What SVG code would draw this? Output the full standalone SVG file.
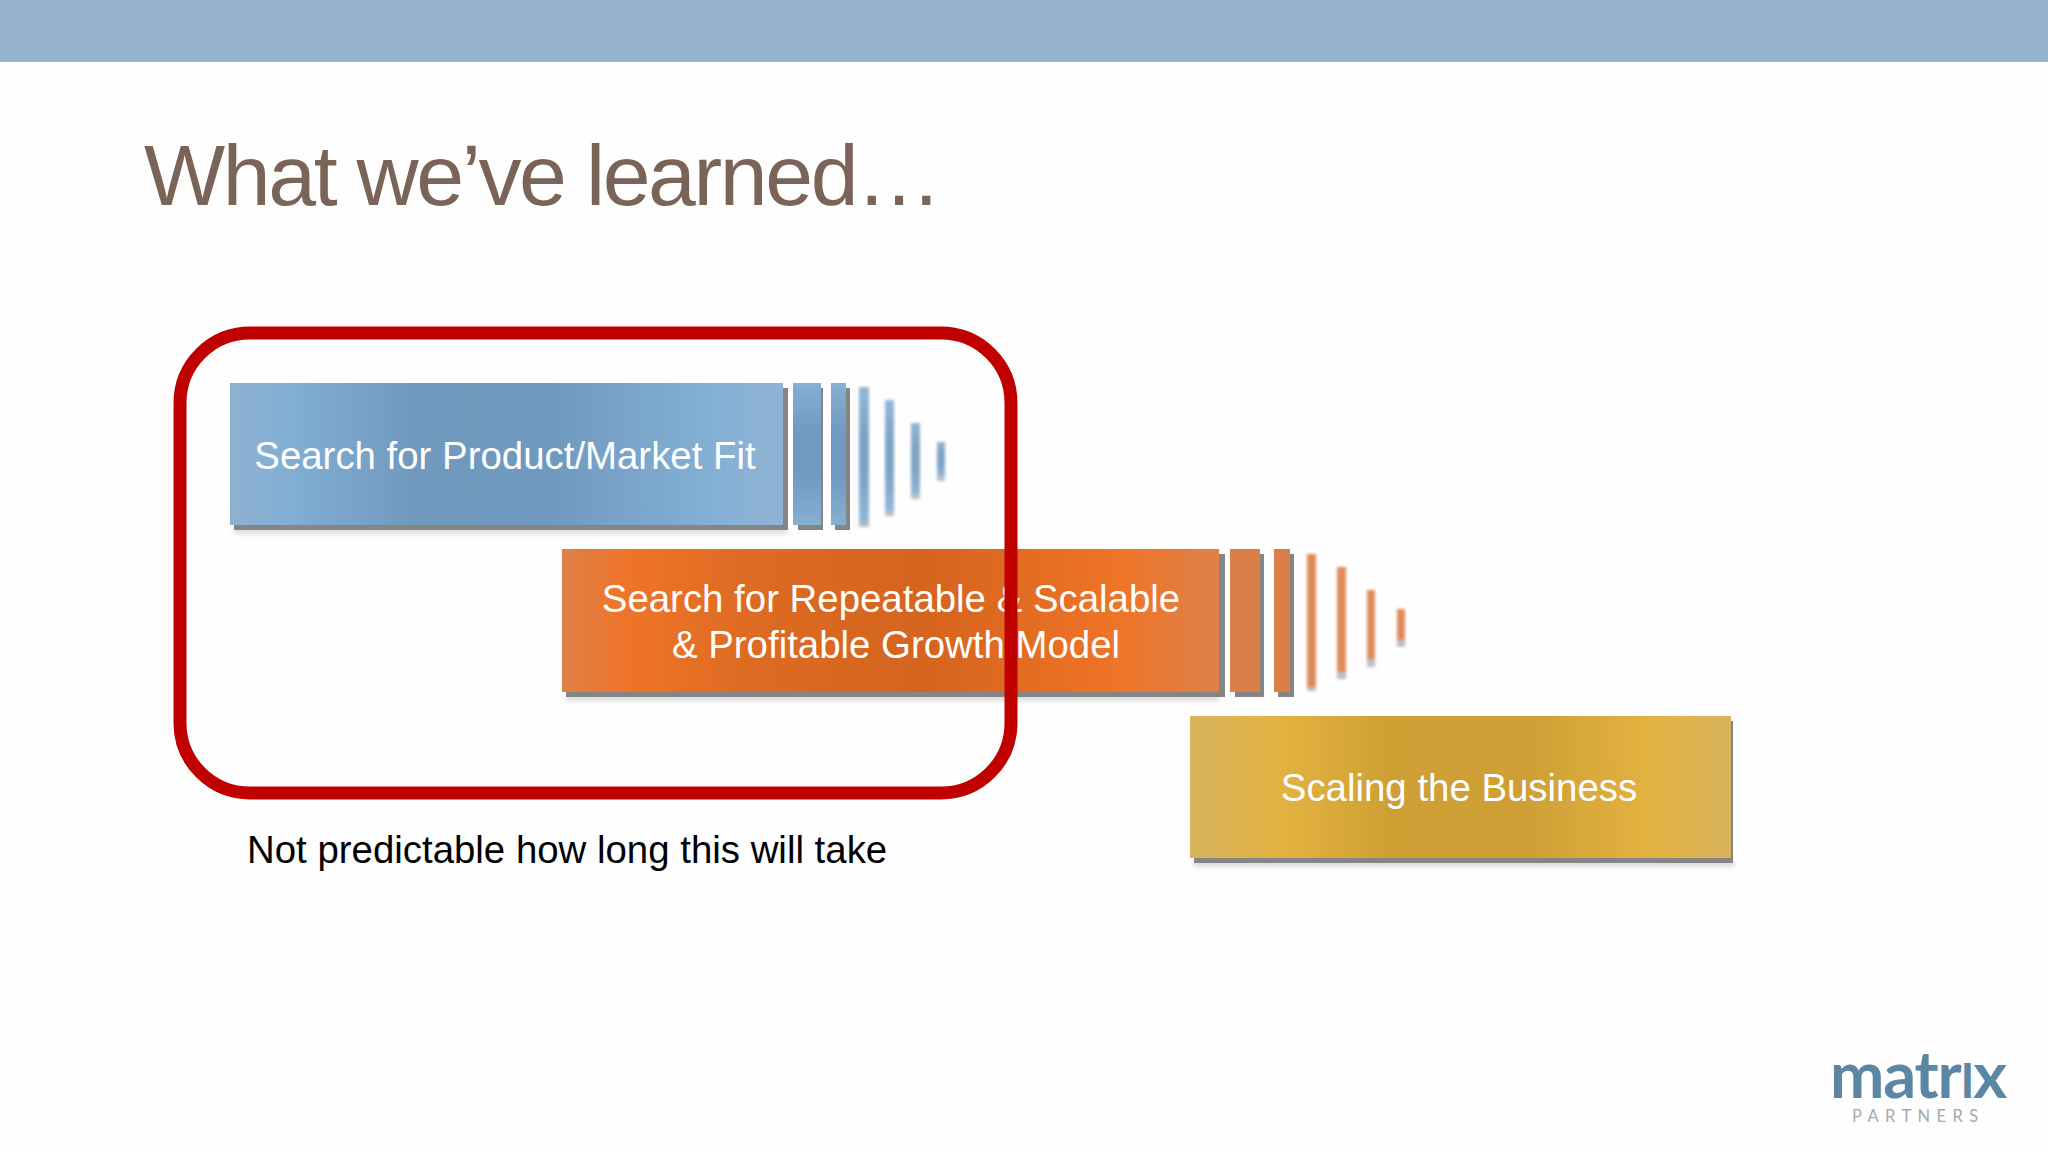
<svg xmlns="http://www.w3.org/2000/svg" width="2048" height="1152" viewBox="0 0 2048 1152">
<style>
text{font-family:"Liberation Sans",Arial,sans-serif}
.lbl{font-size:38.4px;fill:#fff;text-anchor:middle}
.sh{fill:#858585}
.b{fill:url(#blueV)}
.o{fill:#db7f48}
.soft{filter:url(#soft);opacity:.9}
</style>
<defs>
<linearGradient id="blue" x1="0" x2="1" y1="0" y2="0"><stop offset="0" stop-color="#90b0cf"/><stop offset=".1" stop-color="#83afd5"/><stop offset=".33" stop-color="#7199be"/><stop offset=".58" stop-color="#7099bf"/><stop offset=".87" stop-color="#84b0d6"/><stop offset="1" stop-color="#90b3d3"/></linearGradient>
<linearGradient id="blueV" x1="0" x2="0" y1="0" y2="1"><stop offset="0" stop-color="#87afd4"/><stop offset=".35" stop-color="#709abf"/><stop offset=".65" stop-color="#709abf"/><stop offset="1" stop-color="#87afd4"/></linearGradient>
<linearGradient id="orange" x1="0" x2="1" y1="0" y2="0"><stop offset="0" stop-color="#de8149"/><stop offset=".1" stop-color="#ef7428"/><stop offset=".3" stop-color="#dc6a22"/><stop offset=".55" stop-color="#d5641e"/><stop offset=".85" stop-color="#ef7428"/><stop offset="1" stop-color="#de8149"/></linearGradient>
<linearGradient id="gold" x1="0" x2="1" y1="0" y2="0"><stop offset="0" stop-color="#d9b45e"/><stop offset=".17" stop-color="#e3b341"/><stop offset=".37" stop-color="#cea034"/><stop offset=".62" stop-color="#cd9f35"/><stop offset=".85" stop-color="#e3b341"/><stop offset="1" stop-color="#dab35e"/></linearGradient>
<filter id="soft" x="-80%" y="-10%" width="260%" height="120%"><feGaussianBlur stdDeviation="1.7"/></filter>
<filter id="halo" x="-5%" y="-300%" width="110%" height="700%"><feGaussianBlur stdDeviation="2.5"/></filter>
</defs>
<rect width="2048" height="1152" fill="#fefefe"/>
<rect id="top-bar" width="2048" height="62" fill="#96b4cf"/>
<text id="title" x="144" y="205" font-size="86" fill="#7a6458" letter-spacing="-2.4">What we’ve learned…</text>

<g id="node-product-market">
<rect x="234" y="529" width="553" height="4" fill="#ccc" filter="url(#halo)"/>
<rect class="sh" x="234" y="388" width="554" height="142"/>
<rect x="230" y="383" width="553" height="142" fill="url(#blue)"/>
<text class="lbl" x="505" y="469">Search for Product/Market Fit</text>
<rect class="sh" x="798" y="388" width="25" height="142"/><rect class="b" x="793" y="383" width="28" height="142"/>
<rect class="sh" x="835" y="388" width="15" height="142"/><rect class="b" x="831" y="383" width="15" height="142"/>
<g class="soft">
<rect class="sh" x="859" y="390" width="10" height="137" opacity=".6"/><rect class="b" x="859" y="387" width="10" height="136"/>
<rect class="sh" x="885" y="403" width="9" height="113" opacity=".6"/><rect class="b" x="885" y="400" width="9" height="111"/>
<rect class="sh" x="911" y="426" width="9" height="73" opacity=".6"/><rect class="b" x="911" y="423" width="9" height="71"/>
<rect class="sh" x="937" y="445" width="8" height="36" opacity=".6"/><rect class="b" x="937" y="442" width="8" height="34"/>
</g>
</g>

<g id="node-growth-model">
<rect x="566" y="696" width="653" height="4" fill="#ccc" filter="url(#halo)"/>
<rect class="sh" x="566" y="554" width="659" height="143"/>
<rect x="562" y="549" width="657" height="143" fill="url(#orange)"/>
<text class="lbl" x="891" y="612">Search for Repeatable &amp; Scalable</text>
<text class="lbl" x="896" y="658">&amp; Profitable Growth Model</text>
<rect class="sh" x="1235" y="554" width="29" height="143"/><rect class="o" x="1230" y="549" width="30" height="143"/>
<rect class="sh" x="1278" y="554" width="16" height="143"/><rect class="o" x="1274" y="549" width="16" height="143"/>
<g class="soft">
<rect class="sh" x="1307" y="557" width="9" height="134" opacity=".6"/><rect class="o" x="1307" y="554" width="9" height="133"/>
<rect class="sh" x="1337" y="570" width="9" height="109" opacity=".6"/><rect class="o" x="1337" y="567" width="9" height="105"/>
<rect class="sh" x="1367" y="593" width="8" height="74" opacity=".6"/><rect class="o" x="1367" y="590" width="8" height="69"/>
<rect class="sh" x="1397" y="612" width="8" height="35" opacity=".6"/><rect class="o" x="1397" y="609" width="8" height="31"/>
</g>
</g>

<g id="node-scaling">
<rect x="1194" y="862" width="540" height="4" fill="#ccc" filter="url(#halo)"/>
<rect class="sh" x="1194" y="721" width="539" height="142"/>
<rect x="1190" y="716" width="541" height="142" fill="url(#gold)"/>
<text class="lbl" x="1459" y="801">Scaling the Business</text>
</g>

<g id="connectors">
<rect id="highlight" x="180" y="333" width="831" height="460" rx="70" ry="70" fill="none" stroke="#c00000" stroke-width="13"/>
</g>

<text id="note" x="247" y="863" font-size="38.4" fill="#000">Not predictable how long this will take</text>

<g id="logo">
<text x="1830" y="1098" font-size="65" font-weight="700" fill="#5b86a4" letter-spacing="-1.2" style="font-family:Lato,sans-serif">matr<tspan style="text-transform:uppercase" font-size="47">i</tspan>x</text>
<text x="1852" y="1122" font-size="16.5" fill="#a9a9a9" letter-spacing="6.4" style="font-family:Lato,sans-serif">PARTNERS</text>
</g>
</svg>
